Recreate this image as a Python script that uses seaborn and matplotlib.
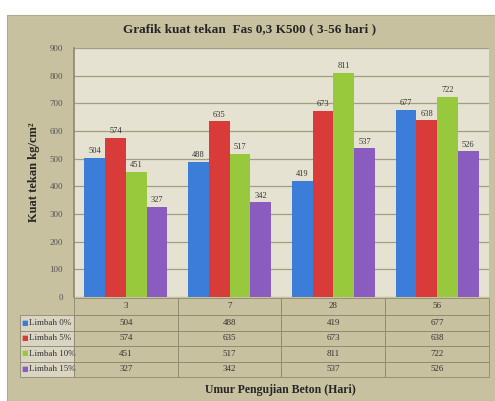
import matplotlib
matplotlib.use('Agg')
import matplotlib.pyplot as plt
import matplotlib.patches as mpatches
import seaborn as sns
import pandas as pd

umur = ['3', '7', '28', '56']
limbah = ['Limbah 0%', 'Limbah 5%', 'Limbah 10%', 'Limbah 15%']
limbah_0 = [504, 488, 419, 677]
limbah_5 = [574, 635, 673, 638]
limbah_10 = [451, 517, 811, 722]
limbah_15 = [327, 342, 537, 526]
series = [limbah_0, limbah_5, limbah_10, limbah_15]

colors = ['#3b7dd8', '#d93a3a', '#98c93c', '#8a5cc0']
frame_col = '#c7c1a0'
plot_bg = '#e6e2d2'
grid_col = '#a39d82'

sns.set_theme(style='white')
plt.rcParams['font.family'] = ['Liberation Serif', 'DejaVu Serif']

df = pd.DataFrame({
    'umur': [u for s in series for u in umur],
    'limbah': [l for l, s in zip(limbah, series) for _ in s],
    'kuat': [v for s in series for v in s],
})

fig = plt.figure(figsize=(4.95, 4.01), dpi=100)
fig.patch.set_facecolor('white')
fig.patches.append(mpatches.Rectangle((7 / 495, 0), 1, 1 - 15 / 401,
                                      transform=fig.transFigure,
                                      facecolor=frame_col, edgecolor='#b0aa8a',
                                      lw=0.8, zorder=-10))

ax = fig.add_axes([74 / 495, 104 / 401, 415 / 495, 249 / 401])
ax.set_facecolor(plot_bg)

sns.barplot(data=df, x='umur', y='kuat', hue='limbah', order=umur,
            hue_order=limbah, palette=colors, width=0.8, saturation=1,
            edgecolor='none', legend=False, ax=ax, zorder=3)

for cont in ax.containers:
    ax.bar_label(cont, fontsize=6, color='#333333', padding=2)

ax.set_ylim(0, 900)
ax.set_yticks(range(0, 901, 100))
ax.tick_params(axis='y', labelsize=6.5, colors='#555555', length=0, pad=8)
ax.set_xticks([])
ax.set_xlabel('')
ax.set_ylabel('Kuat tekan kg/cm\u00b2', fontsize=9, fontweight='bold',
              labelpad=7)
ax.yaxis.grid(True, color=grid_col, lw=0.9, zorder=0)
for sp in ax.spines.values():
    sp.set_visible(False)
ax.spines['left'].set_visible(True)
ax.spines['left'].set_color('#8f8a70')

# data table under the plot
cell_text = [[''] + umur]
for l, s in zip(limbah, series):
    cell_text.append([l] + [str(v) for v in s])

tbl = ax.table(cellText=cell_text, cellLoc='center',
               bbox=[-54 / 415, -80 / 249, 1 + 54 / 415, 79 / 249])
tbl.auto_set_font_size(False)
tbl.set_fontsize(6.5)
heights = [17] + [15.5] * 4
for (r, c), cell in tbl.get_celld().items():
    cell.set_width(54 if c == 0 else 104)
    cell.set_height(heights[r])
    cell.set_facecolor('none')
    cell.set_edgecolor('#8f8a70')
    cell.set_linewidth(0.6)
    cell.get_text().set_color('#333333')
    if c == 0:
        cell._loc = 'left'
        cell.get_text().set_ha('left')
        cell.PAD = 0.16
        if r == 0:
            cell.visible_edges = ''
        else:
            cell.set_facecolor('#d9d5c2')

row_y = [-25.5, -41, -56.5, -72]
for yy, col in zip(row_y, colors):
    ax.text(-52.5 / 415, yy / 249, '\u25a0', color=col, fontsize=5,
            family='DejaVu Sans', transform=ax.transAxes, ha='left',
            va='center')

fig.text(250 / 495, 1 - 29 / 401, 'Grafik kuat tekan  Fas 0,3 K500 ( 3-56 hari )',
         ha='center', va='center', fontsize=9.5, fontweight='bold')
fig.text(280 / 495, 1 - 390 / 401, 'Umur Pengujian Beton (Hari)',
         ha='center', va='center', fontsize=8.5, fontweight='bold')

fig.savefig('out.png', dpi=100, facecolor=fig.get_facecolor())
